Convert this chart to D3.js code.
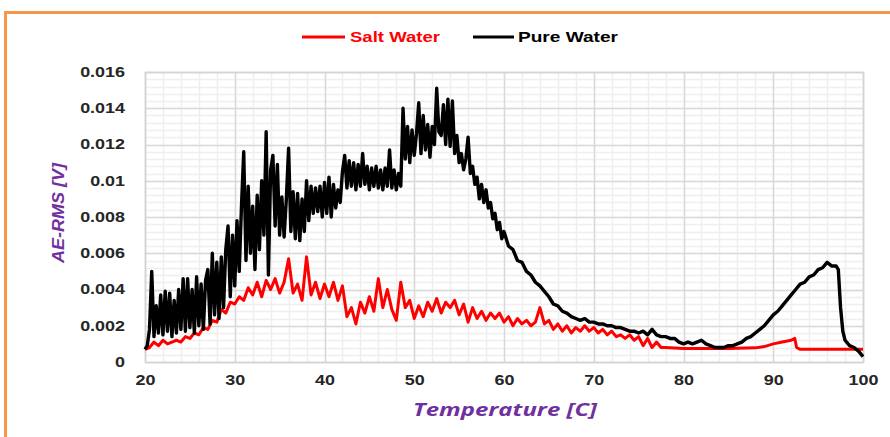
<!DOCTYPE html>
<html>
<head>
<meta charset="utf-8">
<script src="https://cdn.jsdelivr.net/npm/d3@7"></script>
<style>
  html, body { margin: 0; padding: 0; background: #fff; }
  svg { display: block; }
</style>
</head>
<body>
<svg id="chart" width="890" height="437"></svg>
<script>
// ---------------- DATA ----------------
const seriesNames = ["Salt Water", "Pure Water"];
const seriesColors = ["#ff0000", "#000000"];

const xTicks = [20, 30, 40, 50, 60, 70, 80, 90, 100];
const yTicks = [0, 0.002, 0.004, 0.006, 0.008, 0.01, 0.012, 0.014, 0.016];
const yTickLabels = ["0", "0.002", "0.004", "0.006", "0.008", "0.01", "0.012", "0.014", "0.016"];

const pureTemp = [
  20.00,20.25,20.50,20.75,21.00,21.25,21.50,21.75,22.00,22.25,22.50,22.75,23.00,23.25,23.50,23.75,
  24.00,24.25,24.50,24.75,25.00,25.25,25.50,25.75,26.00,26.25,26.50,26.75,27.00,27.25,27.50,27.75,
  28.00,28.25,28.50,28.75,29.00,29.25,29.50,29.75,30.00,30.25,30.50,30.75,31.00,31.25,31.50,31.75,
  32.00,32.25,32.50,32.75,33.00,33.25,33.50,33.75,34.00,34.25,34.50,34.75,35.00,35.25,35.50,35.75,
  36.00,36.25,36.50,36.75,37.00,37.25,37.50,37.75,38.00,38.25,38.50,38.75,39.00,39.25,39.50,39.75,
  40.00,40.25,40.50,40.75,41.00,41.25,41.50,41.75,42.00,42.25,42.50,42.75,43.00,43.25,43.50,43.75,
  44.00,44.25,44.50,44.75,45.00,45.25,45.50,45.75,46.00,46.25,46.50,46.75,47.00,47.25,47.50,47.75,
  48.00,48.25,48.50,48.75,49.00,49.25,49.50,49.75,50.00,50.25,50.50,50.75,51.00,51.25,51.50,51.75,
  52.00,52.25,52.50,52.75,53.00,53.25,53.50,53.75,54.00,54.25,54.50,54.75,55.00,55.25,55.50,55.75,
  56.00,56.25,56.50,56.75,57.00,57.25,57.50,57.75,58.00,58.25,58.50,58.75,59.00,59.25,59.50,59.75,
  60.00,60.5,61.0,61.5,62.0,62.5,63.0,63.5,64.0,64.5,65.0,65.5,66.0,66.5,67.0,67.5,68.0,68.5,69.0,69.5,
  70.0,70.5,71.0,71.5,72.0,72.5,73.0,73.5,74.0,74.5,75.0,75.5,76.0,76.5,77.0,77.5,78.0,78.5,79.0,79.5,
  80.0,80.5,81.0,81.5,82.0,82.5,83.0,83.5,84.0,84.5,85.0,85.5,86.0,86.5,87.0,87.5,88.0,88.5,89.0,89.5,
  90.0,90.5,91.0,91.5,92.0,92.5,93.0,93.5,94.0,94.5,95.0,95.5,96.0,96.5,97.0,97.25,97.5,97.75,98.0,98.5,
  99.0,99.5,100.0
];
const pureAE = [
  0.0007,0.0009,0.0018,0.0050,0.0014,0.0031,0.0016,0.0037,0.0015,0.0039,0.0017,0.0038,0.0014,0.0034,0.0016,0.0040,
  0.0018,0.0046,0.0017,0.0046,0.0019,0.0040,0.0016,0.0047,0.0020,0.0043,0.0018,0.0045,0.0051,0.0021,0.0060,0.0026,
  0.0055,0.0024,0.0058,0.0030,0.0062,0.0075,0.0036,0.0070,0.0042,0.0078,0.0050,0.0086,0.0116,0.0056,0.0097,0.0060,
  0.0086,0.0051,0.0092,0.0062,0.0100,0.0070,0.0127,0.0048,0.0106,0.0114,0.0075,0.0109,0.0070,0.0091,0.0069,0.0090,
  0.0118,0.0072,0.0094,0.0068,0.0093,0.0067,0.0090,0.0072,0.0100,0.0078,0.0097,0.0082,0.0096,0.0083,0.0097,0.0080,
  0.0099,0.0082,0.0102,0.0080,0.0098,0.0085,0.0095,0.0088,0.0105,0.0114,0.0096,0.0111,0.0097,0.0110,0.0095,0.0109,
  0.0097,0.0115,0.0098,0.0108,0.0095,0.0107,0.0097,0.0108,0.0096,0.0106,0.0095,0.0107,0.0097,0.0117,0.0096,0.0106,
  0.0095,0.0104,0.0097,0.0140,0.0112,0.0130,0.0110,0.0128,0.0114,0.0126,0.0143,0.0115,0.0136,0.0117,0.0131,0.0113,
  0.0130,0.0120,0.0151,0.0127,0.0125,0.0142,0.0120,0.0145,0.0119,0.0144,0.0115,0.0125,0.0110,0.0115,0.0106,0.0112,
  0.0124,0.0104,0.0108,0.0098,0.0102,0.0090,0.0098,0.0088,0.0095,0.0085,0.0088,0.0079,0.0082,0.0073,0.0077,0.0068,
  0.0072,0.0064,0.0062,0.0056,0.0055,0.0050,0.0048,0.0044,0.0042,0.0039,0.0036,0.0032,0.0031,0.0028,0.0027,0.0025,0.0024,0.0023,0.0024,0.0022,
  0.0022,0.0021,0.0021,0.0020,0.0020,0.0019,0.0019,0.0018,0.0017,0.0017,0.0016,0.0017,0.0015,0.0018,0.0015,0.0014,0.0014,0.0013,0.0013,0.0011,
  0.0010,0.0011,0.0010,0.0011,0.0012,0.0010,0.0009,0.0008,0.0008,0.0008,0.0009,0.0009,0.0010,0.0011,0.0013,0.0014,0.0016,0.0018,0.0020,0.0023,
  0.0026,0.0028,0.0031,0.0034,0.0037,0.0040,0.0043,0.0044,0.0047,0.0048,0.0051,0.0052,0.0055,0.0053,0.0053,0.0051,0.0030,0.0017,0.0012,0.0009,
  0.0008,0.0006,0.0003
];

const saltTemp = [
  20.0,20.5,21.0,21.5,22.0,22.5,23.0,23.5,24.0,24.5,25.0,25.5,26.0,26.5,27.0,27.5,28.0,28.5,29.0,29.5,
  30.0,30.5,31.0,31.5,32.0,32.5,33.0,33.5,34.0,34.5,35.0,35.5,36.0,36.5,37.0,37.5,38.0,38.5,39.0,39.5,
  40.0,40.5,41.0,41.5,42.0,42.5,43.0,43.5,44.0,44.5,45.0,45.5,46.0,46.5,47.0,47.5,48.0,48.5,49.0,49.5,
  50.0,50.5,51.0,51.5,52.0,52.5,53.0,53.5,54.0,54.5,55.0,55.5,56.0,56.5,57.0,57.5,58.0,58.5,59.0,59.5,
  60.0,60.5,61.0,61.5,62.0,62.5,63.0,63.5,64.0,64.5,65.0,65.5,66.0,66.5,67.0,67.5,68.0,68.5,69.0,69.5,
  70.0,70.5,71.0,71.5,72.0,72.5,73.0,73.5,74.0,74.5,75.0,75.5,76.0,76.5,77.0,77.5,78.0,80.0,85.0,88.0,
  89.0,90.0,91.0,92.0,92.4,92.6,93.0,100.0
];
const saltAE = [
  0.0007,0.0008,0.0011,0.0009,0.0012,0.0010,0.0011,0.0012,0.0011,0.0014,0.0013,0.0016,0.0015,0.0019,0.0018,0.0023,0.0022,0.0029,0.0027,0.0033,
  0.0032,0.0036,0.0034,0.0041,0.0037,0.0044,0.0036,0.0045,0.0040,0.0046,0.0038,0.0044,0.0057,0.0038,0.0043,0.0034,0.0058,0.0037,0.0044,0.0035,
  0.0043,0.0036,0.0044,0.0034,0.0042,0.0025,0.0030,0.0021,0.0033,0.0027,0.0036,0.0028,0.0046,0.0030,0.0040,0.0029,0.0023,0.0044,0.0030,0.0034,
  0.0024,0.0031,0.0025,0.0033,0.0028,0.0035,0.0027,0.0033,0.0030,0.0034,0.0026,0.0032,0.0022,0.0030,0.0024,0.0028,0.0023,0.0027,0.0024,0.0027,
  0.0022,0.0025,0.0020,0.0024,0.0021,0.0023,0.0020,0.0022,0.0030,0.0021,0.0023,0.0018,0.0021,0.0017,0.0020,0.0016,0.0019,0.0017,0.0020,0.0017,
  0.0019,0.0016,0.0018,0.0015,0.0017,0.0014,0.0015,0.0013,0.0015,0.0012,0.0014,0.0009,0.0013,0.0008,0.0011,0.0008,0.0008,0.00075,0.00075,0.00078,
  0.00085,0.0010,0.0011,0.0012,0.0013,0.0008,0.0007,0.0007
];

// ---------------- CHART ----------------
const svg = d3.select("#chart");
const plot = { left: 145, right: 863, top: 72, bottom: 362 };

const x = d3.scaleLinear().domain([20, 100]).range([plot.left, plot.right]);
const y = d3.scaleLinear().domain([0, 0.016]).range([plot.bottom, plot.top]);

// outer orange frame
svg.append("rect")
  .attr("x", 5.5).attr("y", 12.5).attr("width", 1000).attr("height", 600)
  .attr("fill", "#fff").attr("stroke", "#F79646").attr("stroke-width", 3);

// minor grid
const g = svg.append("g");
const xMinor = d3.range(20, 100.001, 2);
const yMinor = d3.range(0, 0.01601, 0.0004);
g.selectAll(".vminor").data(xMinor).join("line")
  .attr("x1", d => Math.round(x(d)) + 0.5).attr("x2", d => Math.round(x(d)) + 0.5)
  .attr("y1", plot.top).attr("y2", plot.bottom)
  .attr("stroke", "#efefef").attr("stroke-width", 1.5);
g.selectAll(".hminor").data(yMinor).join("line")
  .attr("y1", d => Math.round(y(d)) + 0.5).attr("y2", d => Math.round(y(d)) + 0.5)
  .attr("x1", plot.left).attr("x2", plot.right)
  .attr("stroke", "#efefef").attr("stroke-width", 1.5);
// major grid
g.selectAll(".vmajor").data(xTicks).join("line")
  .attr("x1", d => Math.round(x(d)) + 0.5).attr("x2", d => Math.round(x(d)) + 0.5)
  .attr("y1", plot.top).attr("y2", plot.bottom)
  .attr("stroke", "#d9d9d9").attr("stroke-width", 1.5);
g.selectAll(".hmajor").data(yTicks).join("line")
  .attr("y1", d => Math.round(y(d)) + 0.5).attr("y2", d => Math.round(y(d)) + 0.5)
  .attr("x1", plot.left).attr("x2", plot.right)
  .attr("stroke", "#d9d9d9").attr("stroke-width", 1.5);
g.append("rect")
  .attr("x", plot.left + 0.5).attr("y", plot.top + 0.5)
  .attr("width", plot.right - plot.left).attr("height", plot.bottom - plot.top)
  .attr("fill", "none").attr("stroke", "#d4d4d4").attr("stroke-width", 1.5);

// series lines
const line = d3.line().x(d => x(d[0])).y(d => y(d[1]));
const saltData = saltTemp.map((t, i) => [t, saltAE[i]]);
const pureData = pureTemp.map((t, i) => [t, pureAE[i]]);
svg.append("path").datum(saltData).attr("d", line)
  .attr("fill", "none").attr("stroke", seriesColors[0]).attr("stroke-width", 3)
  .attr("stroke-linejoin", "round");
svg.append("path").datum(pureData).attr("d", line)
  .attr("fill", "none").attr("stroke", seriesColors[1]).attr("stroke-width", 3.4)
  .attr("stroke-linejoin", "round");

// axes
const stretch = 1.28;
function widen(sel, k) {
  sel.each(function () {
    const len = this.getComputedTextLength();
    d3.select(this).attr("textLength", len * k).attr("lengthAdjust", "spacingAndGlyphs");
  });
}
const xAxis = d3.axisBottom(x).tickValues(xTicks).tickSize(0).tickPadding(13).tickFormat(d3.format("d"));
const xg = svg.append("g").attr("transform", `translate(0,${plot.bottom})`).call(xAxis);
xg.select(".domain").remove();
xg.selectAll("text")
  .attr("font-family", "'Liberation Sans', Arial, sans-serif")
  .attr("font-size", 14).attr("font-weight", "bold").attr("fill", "#262626");
widen(xg.selectAll("text"), stretch);

const yAxis = d3.axisLeft(y).tickValues(yTicks).tickSize(0).tickPadding(20)
  .tickFormat((d, i) => yTickLabels[i]);
const yg = svg.append("g").attr("transform", `translate(${plot.left},0)`).call(yAxis);
yg.select(".domain").remove();
yg.selectAll("text")
  .attr("font-family", "'Liberation Sans', Arial, sans-serif")
  .attr("font-size", 14).attr("font-weight", "bold").attr("fill", "#262626");
widen(yg.selectAll("text"), stretch);

// axis titles
const xt = svg.append("text")
  .attr("x", 505).attr("y", 416).attr("text-anchor", "middle")
  .attr("font-family", "'Open Sans', 'Liberation Sans', sans-serif")
  .attr("font-size", 17).attr("font-weight", "bold").attr("font-style", "italic")
  .attr("fill", "#7030A0").text("Temperature [C]");
xt.attr("textLength", 184).attr("lengthAdjust", "spacingAndGlyphs");

const yt = svg.append("text")
  .attr("transform", "translate(64,213) rotate(-90)").attr("text-anchor", "middle")
  .attr("font-family", "'Liberation Sans Narrow', 'Liberation Sans', sans-serif")
  .attr("font-size", 17).attr("font-weight", "bold").attr("font-style", "italic")
  .attr("fill", "#7030A0").text("AE-RMS [V]");
yt.attr("textLength", 100).attr("lengthAdjust", "spacingAndGlyphs");

// legend
const legend = [
  { name: seriesNames[0], color: seriesColors[0], x1: 302, x2: 345, tx: 350, tw: 90 },
  { name: seriesNames[1], color: seriesColors[1], x1: 473, x2: 514, tx: 518, tw: 100 }
];
const lg = svg.append("g");
legend.forEach(l => {
  lg.append("line").attr("x1", l.x1).attr("x2", l.x2).attr("y1", 37).attr("y2", 37)
    .attr("stroke", l.color).attr("stroke-width", 3);
  lg.append("text").attr("x", l.tx).attr("y", 42)
    .attr("font-family", "'Liberation Sans Narrow', 'Liberation Sans', sans-serif")
    .attr("font-size", 15).attr("font-weight", "bold")
    .attr("fill", l.color).text(l.name)
    .attr("textLength", l.tw).attr("lengthAdjust", "spacingAndGlyphs");
});
</script>
</body>
</html>
